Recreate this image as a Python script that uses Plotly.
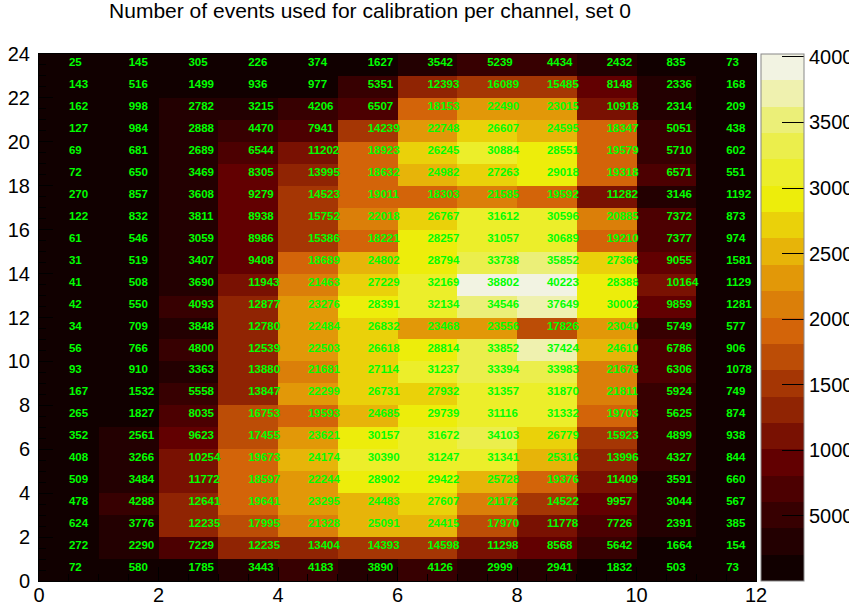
import plotly.graph_objects as go

title = "Number of events used for calibration per channel, set 0"

# Event counts per channel, one list per row, columns 0..11 (row 0 at the bottom)
row_0 = [72, 580, 1785, 3443, 4183, 3890, 4126, 2999, 2941, 1832, 503, 73]
row_1 = [272, 2290, 7229, 12235, 13404, 14393, 14598, 11298, 8568, 5642, 1664, 154]
row_2 = [624, 3776, 12235, 17995, 21328, 25091, 24415, 17970, 11778, 7726, 2391, 385]
row_3 = [478, 4288, 12641, 19641, 23295, 24483, 27607, 21172, 14522, 9957, 3044, 567]
row_4 = [509, 3484, 11772, 18597, 22244, 28902, 29422, 25728, 19376, 11409, 3591, 660]
row_5 = [408, 3266, 10254, 19673, 24174, 30390, 31247, 31341, 25316, 13996, 4327, 844]
row_6 = [352, 2561, 9623, 17455, 23621, 30157, 31672, 34103, 26779, 15923, 4899, 938]
row_7 = [265, 1827, 8035, 16753, 19593, 24685, 29739, 31116, 31332, 19703, 5625, 874]
row_8 = [167, 1532, 5558, 13847, 22299, 26731, 27932, 31357, 31870, 21811, 5924, 749]
row_9 = [93, 910, 3363, 13880, 21681, 27114, 31237, 33394, 33983, 21678, 6306, 1078]
row_10 = [56, 766, 4800, 12539, 22503, 26618, 28814, 33852, 37424, 24610, 6786, 906]
row_11 = [34, 709, 3848, 12780, 22484, 26832, 23468, 23556, 17826, 23040, 5749, 577]
row_12 = [42, 550, 4093, 12877, 23276, 28391, 32134, 34546, 37649, 30002, 9859, 1281]
row_13 = [41, 508, 3690, 11943, 21463, 27229, 32169, 38802, 40223, 28388, 10164, 1129]
row_14 = [31, 519, 3407, 9408, 18689, 24802, 28794, 33738, 35852, 27366, 9055, 1581]
row_15 = [61, 546, 3059, 8986, 15386, 18221, 28257, 31057, 30689, 19210, 7377, 974]
row_16 = [122, 832, 3811, 8938, 15752, 22018, 26767, 31612, 30596, 20885, 7372, 873]
row_17 = [270, 857, 3608, 9279, 14523, 19011, 18303, 21585, 19592, 11282, 3146, 1192]
row_18 = [72, 650, 3469, 8305, 13995, 18632, 24982, 27263, 29018, 19318, 6571, 551]
row_19 = [69, 681, 2689, 6544, 11202, 18923, 26245, 30884, 28551, 19579, 5710, 602]
row_20 = [127, 984, 2888, 4470, 7941, 14239, 22748, 26607, 24595, 18347, 5051, 438]
row_21 = [162, 998, 2782, 3215, 4206, 6507, 18153, 22490, 23015, 10918, 2314, 209]
row_22 = [143, 516, 1499, 936, 977, 5351, 12393, 16089, 15485, 8148, 2336, 168]
row_23 = [25, 145, 305, 226, 374, 1627, 3542, 5239, 4434, 2432, 835, 73]

rows = [row_0, row_1, row_2, row_3, row_4, row_5, row_6, row_7, row_8, row_9,
        row_10, row_11, row_12, row_13, row_14, row_15, row_16, row_17, row_18,
        row_19, row_20, row_21, row_22, row_23]

x_ticks = [0, 2, 4, 6, 8, 10, 12]
y_ticks = [0, 2, 4, 6, 8, 10, 12, 14, 16, 18, 20, 22, 24]
z_ticks = [5000, 10000, 15000, 20000, 25000, 30000, 35000, 40000]

# Dark body radiator palette (stops and RGB components)
pal_stops = [0.0, 0.125, 0.25, 0.375, 0.5, 0.625, 0.75, 0.875, 1.0]
pal_red = [0, 45, 99, 156, 212, 230, 237, 234, 242]
pal_green = [0, 0, 0, 45, 101, 168, 238, 238, 243]
pal_blue = [0, 1, 1, 3, 9, 8, 11, 95, 230]
n_levels = 20


def palette_color(f):
    for k in range(1, len(pal_stops)):
        if f <= pal_stops[k]:
            t = (f - pal_stops[k - 1]) / (pal_stops[k] - pal_stops[k - 1])
            r = pal_red[k - 1] + t * (pal_red[k] - pal_red[k - 1])
            g = pal_green[k - 1] + t * (pal_green[k] - pal_green[k - 1])
            b = pal_blue[k - 1] + t * (pal_blue[k] - pal_blue[k - 1])
            return "rgb(%d,%d,%d)" % (round(r), round(g), round(b))
    return "rgb(%d,%d,%d)" % (pal_red[-1], pal_green[-1], pal_blue[-1])


# Stepped colour scale: one flat colour per contour level
colorscale = []
for i in range(n_levels):
    c = palette_color(int((i + 0.99) * 255 / n_levels) / 255.0)
    colorscale.append([i / n_levels, c])
    colorscale.append([(i + 1) / n_levels, c])

n_rows = len(rows)
n_cols = len(rows[0])
x_centers = [c + 0.5 for c in range(n_cols)]
y_centers = [r + 0.5 for r in range(n_rows)]

z_min = min(min(r) for r in rows)
z_max = max(max(r) for r in rows)

fig = go.Figure()

fig.add_trace(go.Heatmap(
    x=x_centers,
    y=y_centers,
    z=rows,
    zmin=z_min,
    zmax=z_max,
    colorscale=colorscale,
    hoverinfo="skip",
    colorbar=dict(
        x=(761 - 39) / 717,
        xanchor="left",
        y=0.5,
        yanchor="middle",
        len=1.0,
        lenmode="fraction",
        thickness=43,
        thicknessmode="pixels",
        xpad=0,
        ypad=0,
        outlinewidth=1,
        outlinecolor="#888888",
        ticks="inside",
        ticklen=22,
        tickwidth=1,
        tickcolor="black",
        tickvals=z_ticks,
        ticktext=[str(v) for v in z_ticks],
        tickfont=dict(family="Liberation Sans", size=20, color="black"),
    ),
))

# Bin contents written in each cell, baseline on the bin centre
text_drop = 0.18  # nudge (in bin units) so the digits sit on the centre line
txt_x, txt_y, txt = [], [], []
for r, row in enumerate(rows):
    for c, v in enumerate(row):
        txt_x.append(x_centers[c])
        txt_y.append(y_centers[r] - text_drop)
        txt.append(str(v))

fig.add_trace(go.Scatter(
    x=txt_x,
    y=txt_y,
    text=txt,
    mode="text",
    textposition="top right",
    textfont=dict(family="Liberation Sans", size=11.5, color="#00ff00", weight="bold"),
    hoverinfo="skip",
    showlegend=False,
))

axis_common = dict(
    ticks="inside",
    tickcolor="black",
    ticklen=14,
    tickwidth=1,
    showgrid=False,
    zeroline=False,
    showline=True,
    linecolor="black",
    linewidth=1,
    mirror=True,
    tickfont=dict(family="Liberation Sans", size=20, color="black"),
    minor=dict(ticks="inside", ticklen=7, tickcolor="black", dtick=0.5, showgrid=False),
)

fig.update_xaxes(range=[0, 12], tickvals=x_ticks, ticklabelstandoff=-4, **axis_common)
fig.update_yaxes(range=[0, 24], tickvals=y_ticks, ticklabelstandoff=4, **axis_common)

fig.update_layout(
    width=849,
    height=613,
    margin=dict(l=39, r=93, t=54, b=32, autoexpand=False),
    paper_bgcolor="white",
    plot_bgcolor="white",
    showlegend=False,
    title=dict(
        text=title,
        x=370 / 849,
        xanchor="center",
        y=1 - 11 / 613,
        yanchor="middle",
        font=dict(family="Liberation Sans", size=21, color="black"),
    ),
)

fig.write_html("out.html")
